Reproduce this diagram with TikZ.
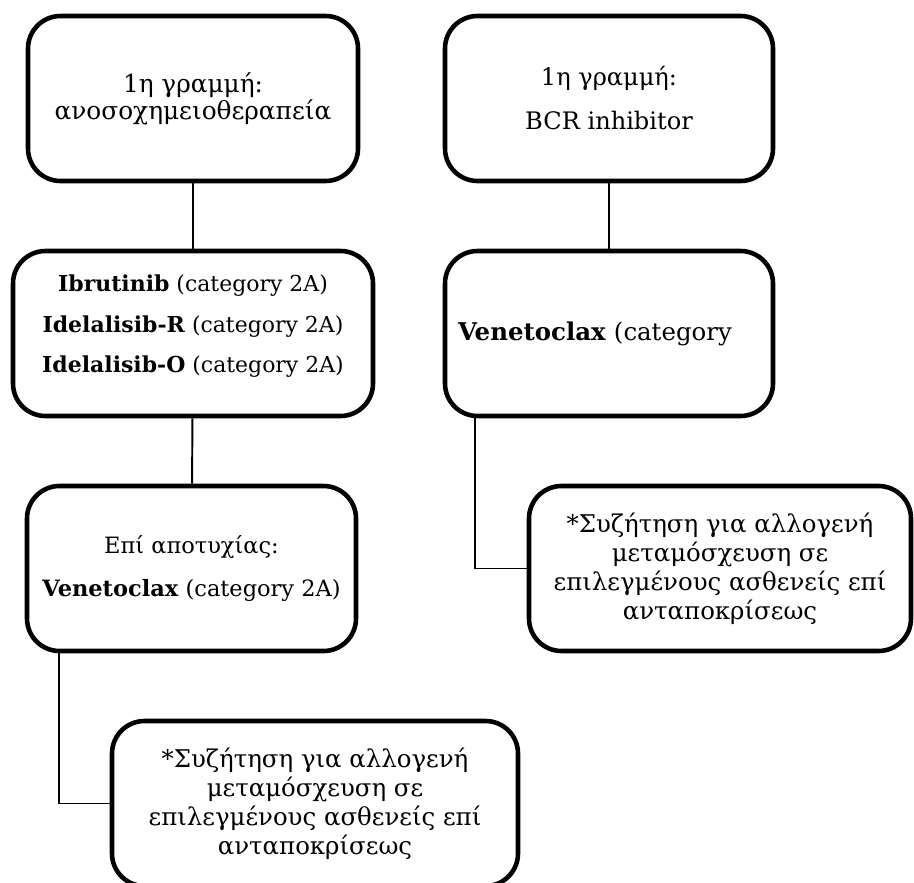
\documentclass[tikz,border=0pt]{standalone}
\usepackage{fontspec}
\setmainfont{DejaVu Serif}

\tikzset{
  stage/.style={draw, line width=2.6pt, rounded corners=0.65cm, align=center,
    minimum height=3.3cm, inner sep=0pt},
  link/.style={line width=1.1pt}
}

\begin{document}
\begin{tikzpicture}
        \useasboundingbox (0, 0) rectangle (18.28, -17.64);

        % Chemoimmunotherapy branch
        \node [stage, minimum width=6.6cm, font=\fontsize{14.1}{13}\selectfont] (chemoline) at (3.86, -1.97)
            {1η γραμμή:\\ανοσοχημειοθεραπεία};
        \node [stage, minimum width=7.2cm, font=\fontsize{12.5}{23}\selectfont] (chemosecond) at (3.86, -6.67)
            {\textbf{Ibrutinib} (category 2A)\\\textbf{Idelalisib-R} (category 2A)\\\textbf{Idelalisib-O} (category 2A)\\[-12pt]~};
        \node [stage, minimum width=6.58cm, font=\fontsize{12.8}{25}\selectfont] (chemofail) at (3.83, -11.37)
            {Επί αποτυχίας:\\\textbf{Venetoclax} (category 2A)};
        \node [stage, minimum width=8.12cm, font=\fontsize{13.9}{16.5}\selectfont] (chemoallo) at (6.3, -16.07)
            {*Συζήτηση για αλλογενή\\μεταμόσχευση σε\\επιλεγμένους ασθενείς επί\\ανταποκρίσεως};

        % BCR inhibitor branch
        \node [stage, minimum width=6.56cm, font=\fontsize{13.7}{25}\selectfont] (bcrline) at (12.18, -1.97)
            {1η γραμμή:\\BCR inhibitor};
        \node [stage, minimum width=6.56cm, text width=6.04cm, inner xsep=0.26cm, align=left,
            font=\fontsize{13.9}{16}\selectfont] (bcrsecond) at (12.18, -6.67)
            {\textbf{Venetoclax} (category};
        \node [stage, minimum width=7.64cm, font=\fontsize{13.9}{16.5}\selectfont] (bcrallo) at (14.4, -11.37)
            {*Συζήτηση για αλλογενή\\μεταμόσχευση σε\\επιλεγμένους ασθενείς επί\\ανταποκρίσεως};

        % Connectors
        \draw [link] (chemoline) -- (chemosecond);
        \draw [link] (chemosecond) -- (chemofail);
        \draw [link] ([xshift=0.68cm]chemofail.south west) |- (chemoallo.west);
        \draw [link] (bcrline) -- (bcrsecond);
        \draw [link] ([xshift=0.64cm]bcrsecond.south west) |- (bcrallo.west);
    \end{tikzpicture}
\end{document}
